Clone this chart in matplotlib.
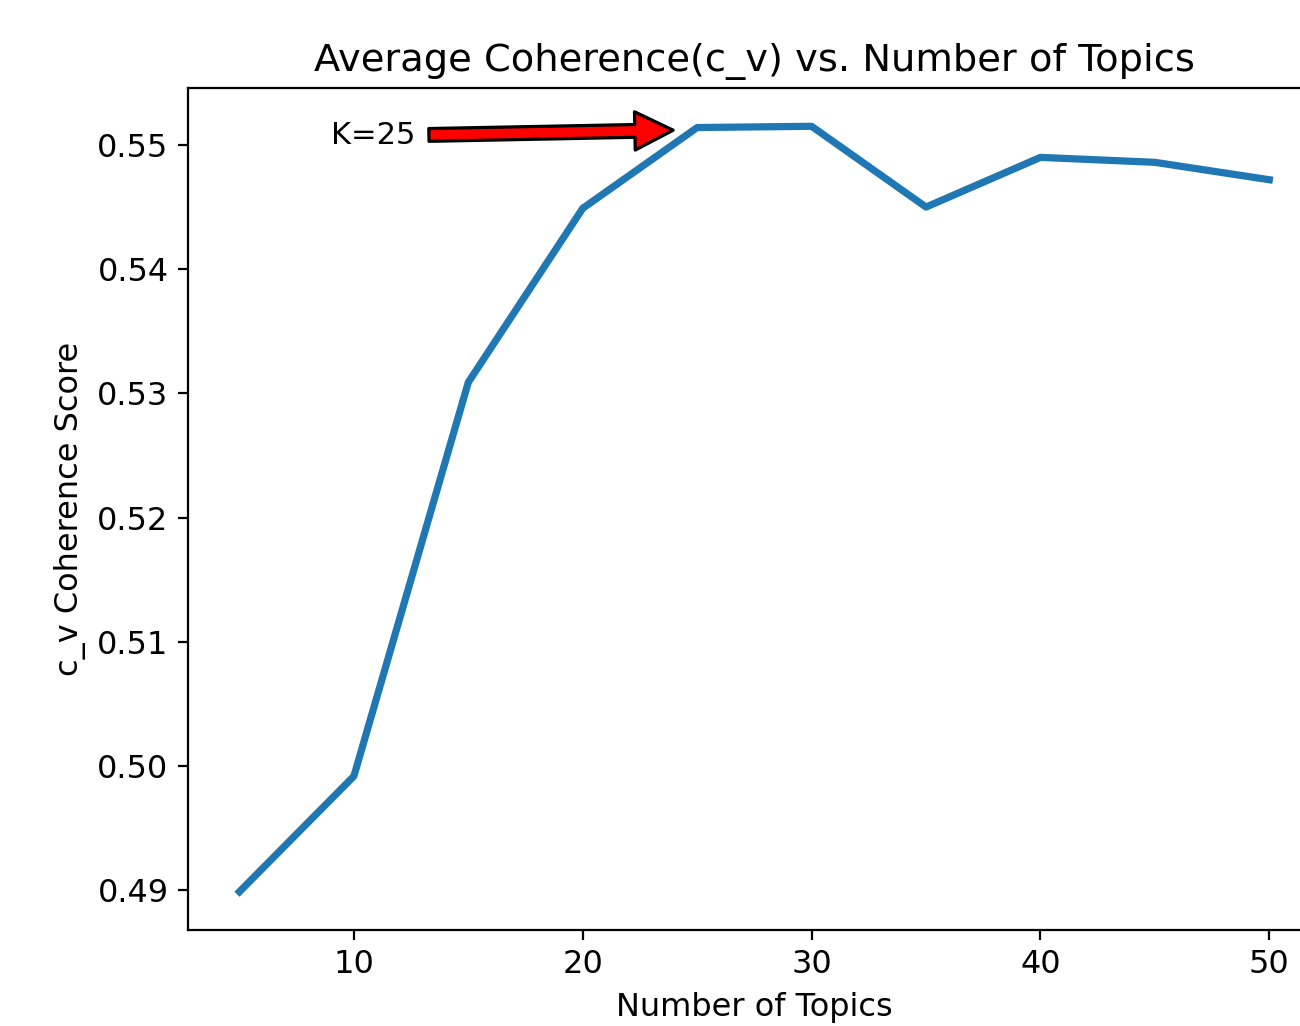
import matplotlib
matplotlib.use("Agg")
import matplotlib.pyplot as plt

# coherence scores
num_topics = [5, 10, 15, 20, 25, 30, 35, 40, 45, 50]
coherence = [0.4899, 0.4992, 0.5309, 0.5449, 0.5514, 0.5515, 0.5450, 0.5490, 0.5486, 0.5472]
best_k = 25

fig = plt.figure(figsize=(6.5, 5.13), dpi=200)
ax = fig.add_axes([0.1446, 0.0936, 0.8714, 0.8206])

ax.plot(num_topics, coherence, lw=2.6, color="#1f77b4")
ax.annotate("K=%d" % best_k, xy=(24.3, 0.5512), xytext=(9, 0.5501),
            fontsize=11,
            arrowprops=dict(facecolor="red", edgecolor="black", shrink=0.03,
                            width=4.6, headwidth=13.8, headlength=13.8,
                            linewidth=1.15))

ax.set_title("Average Coherence(c_v) vs. Number of Topics", fontsize=13.8)
ax.set_xlabel("Number of Topics", fontsize=11.5)
ax.set_ylabel("c_v Coherence Score", fontsize=11.5)
ax.tick_params(labelsize=11.5)
# the figure is cropped on the right in the original
ax.spines["right"].set_visible(False)

fig.savefig("out.png", dpi=200)
